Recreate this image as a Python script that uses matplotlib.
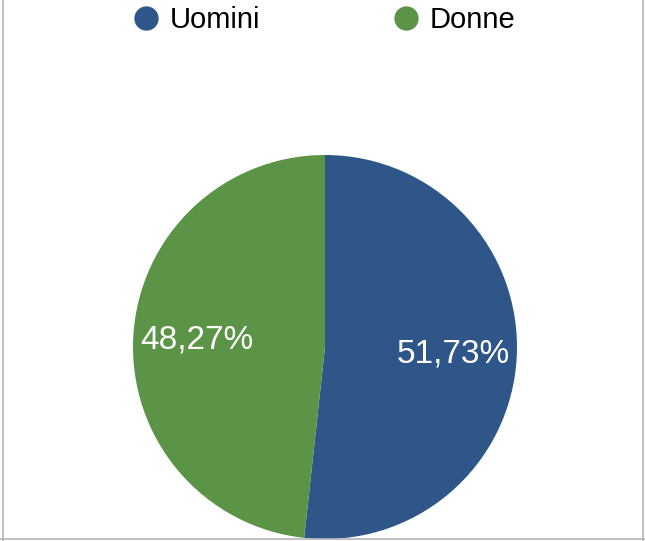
import matplotlib
matplotlib.use("Agg")
import matplotlib.pyplot as plt
from matplotlib.lines import Line2D
import numpy as np

plt.rcParams["font.family"] = ["Liberation Sans", "DejaVu Sans"]

labels = ["Uomini", "Donne"]
shares = [51.73, 48.27]
colors = ["#2E5689", "#5B9447"]
pct_text = ["51,73%", "48,27%"]

W, H = 645, 541
fig = plt.figure(figsize=(W / 100, H / 100), dpi=100)

# pie: centre (325, 347) px, radius 192 px
cx, cy, r = 325, 347, 192
ax = fig.add_axes([(cx - r) / W, (H - cy - r) / H, 2 * r / W, 2 * r / H])
wedges, _ = ax.pie(shares, colors=colors, startangle=90, counterclock=False,
                   radius=1, wedgeprops=dict(linewidth=0))
# percentage labels at ~0.67 radius
for w, t in zip(wedges, pct_text):
    mid = np.deg2rad((w.theta1 + w.theta2) / 2)
    ax.text(0.67 * np.cos(mid), 0.67 * np.sin(mid), t, ha="center", va="center",
            color="white", fontsize=24)
ax.set_xlim(-1, 1); ax.set_ylim(-1, 1)
ax.axis("off")

handles = [Line2D([], [], ls="none", marker="o", markersize=16.5, color=c) for c in colors]
fig.legend(handles, labels, ncol=2, loc="center left", bbox_to_anchor=(134 / W, 1 - 20 / H),
           frameon=False, fontsize=21, handlelength=0.8, handletextpad=0.41,
           columnspacing=4.6, borderpad=0, borderaxespad=0)

# thin grey frame on left, right, bottom
fc = "#b5b5b5"
fig.add_artist(Line2D([2.5 / W, 2.5 / W], [0, 1], color=fc, lw=1.2, transform=fig.transFigure))
fig.add_artist(Line2D([1 - 2.5 / W, 1 - 2.5 / W], [0, 1], color=fc, lw=1.2, transform=fig.transFigure))
fig.add_artist(Line2D([0, 1], [2 / H, 2 / H], color=fc, lw=1.2, transform=fig.transFigure))

fig.savefig("out.png", dpi=100)
